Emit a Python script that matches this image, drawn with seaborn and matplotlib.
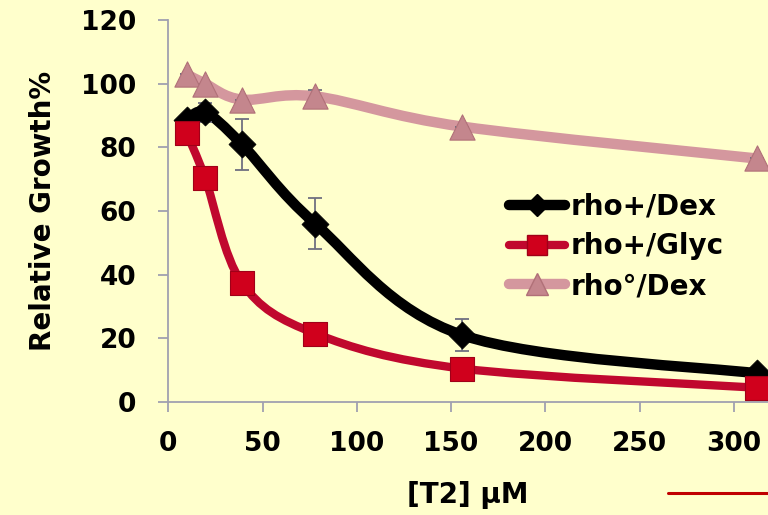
import numpy as np
import pandas as pd
import matplotlib
matplotlib.use("Agg")
import matplotlib.pyplot as plt
import seaborn as sns
from matplotlib.path import Path
from matplotlib.patches import PathPatch
from matplotlib.lines import Line2D

# ---- data ----
dose = [9.75, 19.5, 39, 78, 156, 312]
dex_plus = [88.5, 91, 81, 56, 21, 9]
dex_plus_err = [0, 3, 8, 8, 5, 0]
glyc_plus = [84.5, 70.5, 37.5, 21.5, 10.5, 4.5]
dex_zero = [103, 100, 95, 96, 86.5, 76.5]
dex_zero_err = [0, 0, 0, 2, 0, 0]
series_names = ["rho+/Dex", "rho+/Glyc", "rho°/Dex"]
xticks = [0, 50, 100, 150, 200, 250, 300]
yticks = [0, 20, 40, 60, 80, 100, 120]

BG = "#FFFFCC"
sns.set_theme(style="white")
plt.rcParams['font.family'] = ['DejaVu Sans']
plt.rcParams['font.weight'] = 'bold'
plt.rcParams['text.color'] = 'black'
plt.rcParams['axes.labelcolor'] = 'black'
plt.rcParams['xtick.color'] = 'black'
plt.rcParams['ytick.color'] = 'black'

fig = plt.figure(figsize=(7.68, 5.15), dpi=100, facecolor=BG)
ax = fig.add_axes([0.219, 0.2194, 0.781, 0.7418], facecolor=BG)

def smooth_path(xs, ys):
    # Excel-like smoothed line: cubic Bezier segments (Catmull-Rom control points)
    pts = np.column_stack([xs, ys]).astype(float)
    n = len(pts)
    verts = [pts[0]]
    codes = [Path.MOVETO]
    for i in range(n - 1):
        p0 = pts[i - 1] if i > 0 else pts[i]
        p1 = pts[i]
        p2 = pts[i + 1]
        p3 = pts[i + 2] if i + 2 < n else pts[i + 1]
        c1 = p1 + (p2 - p0) / 6.0
        c2 = p2 - (p3 - p1) / 6.0
        verts += [c1, c2, p2]
        codes += [Path.CURVE4] * 3
    return Path(verts, codes)

ax.set_xlim(0, 318)
ax.set_ylim(0, 120)

def draw_curve_display(xs, ys, color, lw, z):
    sx = 1.877  # px per x unit
    sy = 3.183  # px per y unit
    X = np.array(xs) * sx
    Y = np.array(ys) * sy
    p = smooth_path(X, Y)
    v = p.vertices.copy()
    v[:, 0] /= sx
    v[:, 1] /= sy
    patch = PathPatch(Path(v, p.codes), facecolor="none", edgecolor=color,
                      lw=lw, zorder=z, capstyle="round", joinstyle="round")
    ax.add_patch(patch)

PINK_L, PINK_M = "#D4979E", "#C4868D"
RED_L, RED_M = "#C0082E", "#D0001C"
BLK = "#000000"

draw_curve_display(dose, dex_zero, PINK_L, 7.5, 2)
draw_curve_display(dose, dex_plus, BLK, 7.5, 3)
draw_curve_display(dose, glyc_plus, RED_L, 6, 4)

# error bars
ax.errorbar(dose, dex_plus, yerr=dex_plus_err, fmt="none", ecolor="#707080",
            elinewidth=1.3, capsize=5, capthick=1.3, zorder=6)
ax.errorbar(dose, dex_zero, yerr=dex_zero_err, fmt="none", ecolor="#707080",
            elinewidth=1.3, capsize=5, capthick=1.3, zorder=2.5)

df = pd.DataFrame({"dose": dose * 3,
                   "val": dex_plus + glyc_plus + dex_zero,
                   "series": [series_names[0]] * 6 + [series_names[1]] * 6 + [series_names[2]] * 6})

sns.scatterplot(data=df[df.series == series_names[2]], x="dose", y="val", marker="^",
                s=330, color=PINK_M, edgecolor="#B07078", linewidth=0.8, ax=ax,
                zorder=5, legend=False)
sns.scatterplot(data=df[df.series == series_names[0]], x="dose", y="val", marker="D",
                s=190, color=BLK, edgecolor=BLK, linewidth=0.5, ax=ax,
                zorder=7, legend=False)
sns.scatterplot(data=df[df.series == series_names[1]], x="dose", y="val", marker="s",
                s=300, color=RED_M, edgecolor="#A00018", linewidth=0.8, ax=ax,
                zorder=8, legend=False)

ax.set_xticks(xticks)
ax.set_yticks(yticks)
ax.set_xticklabels([str(t) for t in xticks], fontsize=19, fontweight="bold")
ax.set_yticklabels([str(t) for t in yticks], fontsize=19, fontweight="bold")
ax.tick_params(axis="y", direction="out", length=7, width=1.3, color="#A0A0B0",
               pad=16, left=True)
ax.tick_params(axis="x", direction="out", length=7, width=1.3, color="#A0A0B0",
               pad=14, bottom=True)
for s in ["top", "right"]:
    ax.spines[s].set_visible(False)
for s in ["left", "bottom"]:
    ax.spines[s].set_color("#A0A0B0")
    ax.spines[s].set_linewidth(1.3)

ax.set_xlabel("[T2] μM", fontsize=20, fontweight="bold", labelpad=17)
ax.set_ylabel("Relative Growth%", fontsize=20, fontweight="bold", labelpad=17)

handles = [
    Line2D([], [], color=BLK, lw=7.5, marker="D", ms=11, mfc=BLK, mec=BLK, solid_capstyle="round"),
    Line2D([], [], color=RED_L, lw=6, marker="s", ms=15, mfc=RED_M, mec="#A00018", solid_capstyle="round"),
    Line2D([], [], color=PINK_L, lw=7.5, marker="^", ms=16, mfc=PINK_M, mec="#B07078", solid_capstyle="round"),
]
leg = ax.legend(handles, series_names, loc="upper left", bbox_to_anchor=(0.527, 0.613),
                frameon=False, handlelength=2.0, handletextpad=0.2,
                labelspacing=0.42, prop={"weight": "bold", "size": 20})

# decorative red rule at bottom right
fig.add_artist(Line2D([668 / 768, 1.0], [1 - 493 / 515, 1 - 493 / 515],
                      color="#C00000", lw=2.2, transform=fig.transFigure))

fig.savefig("out.png", dpi=100, facecolor=BG)
